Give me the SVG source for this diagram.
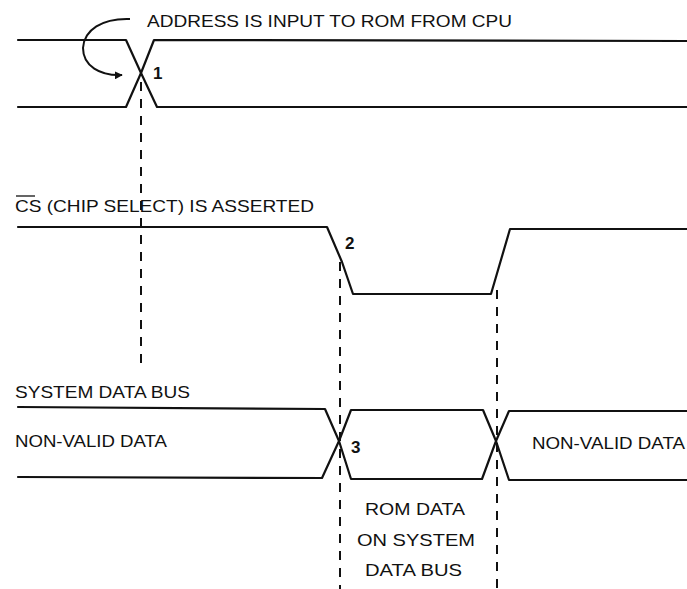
<svg xmlns="http://www.w3.org/2000/svg" width="687" height="589" viewBox="0 0 687 589">
<style>
.w{fill:none;stroke:#111;stroke-width:2.2;stroke-linejoin:round;stroke-linecap:round}
.d{fill:none;stroke:#111;stroke-width:2;stroke-dasharray:9 8}
.t{font-family:"Liberation Sans",Arial,sans-serif;font-size:17px;fill:#111}
.n{font-family:"Liberation Sans",Arial,sans-serif;font-size:17px;font-weight:bold;fill:#111}
</style>
<defs>
<marker id="ah" viewBox="0 0 10 10" refX="9" refY="5" markerWidth="8" markerHeight="8" orient="auto" markerUnits="userSpaceOnUse">
<path d="M0,0 L10,5 L0,10 z" fill="#111"/>
</marker>
</defs>
<rect width="687" height="589" fill="#fff"/>

<g id="address-bus">
<text class="t" x="147" y="27" textLength="365" lengthAdjust="spacingAndGlyphs">ADDRESS IS INPUT TO ROM FROM CPU</text>
<path class="w" d="M18,40 L126,40 L141,73 L154,40 L687,41"/>
<path class="w" d="M18,107 L126,107 L141,73 L157,107 L687,107"/>
<text class="n" x="153" y="79">1</text>
</g>

<g id="cs-signal">
<text class="t" x="15" y="212" textLength="299" lengthAdjust="spacingAndGlyphs">CS (CHIP SELECT) IS ASSERTED</text>
<line x1="16" y1="196" x2="35" y2="196" stroke="#111" stroke-width="1.3"/>
<path class="w" d="M18,227 L327,227 L342,262 L353,294 L491,294 L510,229 L687,229"/>
<text class="n" x="345" y="249">2</text>
</g>

<g id="data-bus">
<text class="t" x="15" y="398" textLength="175" lengthAdjust="spacingAndGlyphs">SYSTEM DATA BUS</text>
<text class="t" x="15" y="447" textLength="152" lengthAdjust="spacingAndGlyphs">NON-VALID DATA</text>
<path class="w" d="M18,407 L325,409 L339,441 L322,478 L18,477"/>
<path class="w" d="M339,441 L351,410 L483,410 L496,441 L482,479 L351,479 L339,441"/>
<path class="w" d="M687,411 L509,411 L496,441 L509,480 L687,480"/>
<text class="n" x="351" y="453">3</text>
<text class="t" x="532" y="449" textLength="153" lengthAdjust="spacingAndGlyphs">NON-VALID DATA</text>
</g>

<g id="rom-data-label">
<text class="t" x="365" y="515" textLength="100" lengthAdjust="spacingAndGlyphs">ROM DATA</text>
<text class="t" x="357" y="546" textLength="118" lengthAdjust="spacingAndGlyphs">ON SYSTEM</text>
<text class="t" x="365" y="576" textLength="97" lengthAdjust="spacingAndGlyphs">DATA BUS</text>
</g>

<g id="connectors">
<path fill="none" stroke="#111" stroke-width="2" d="M130,19 C102,18 84,30 83,48 C83,66 100,76 122,75" marker-end="url(#ah)"/>
<line class="d" x1="141" y1="82" x2="141" y2="368"/>
<line class="d" x1="340" y1="262" x2="340" y2="589"/>
<line class="d" x1="497" y1="290" x2="497" y2="589"/>
</g>
</svg>
